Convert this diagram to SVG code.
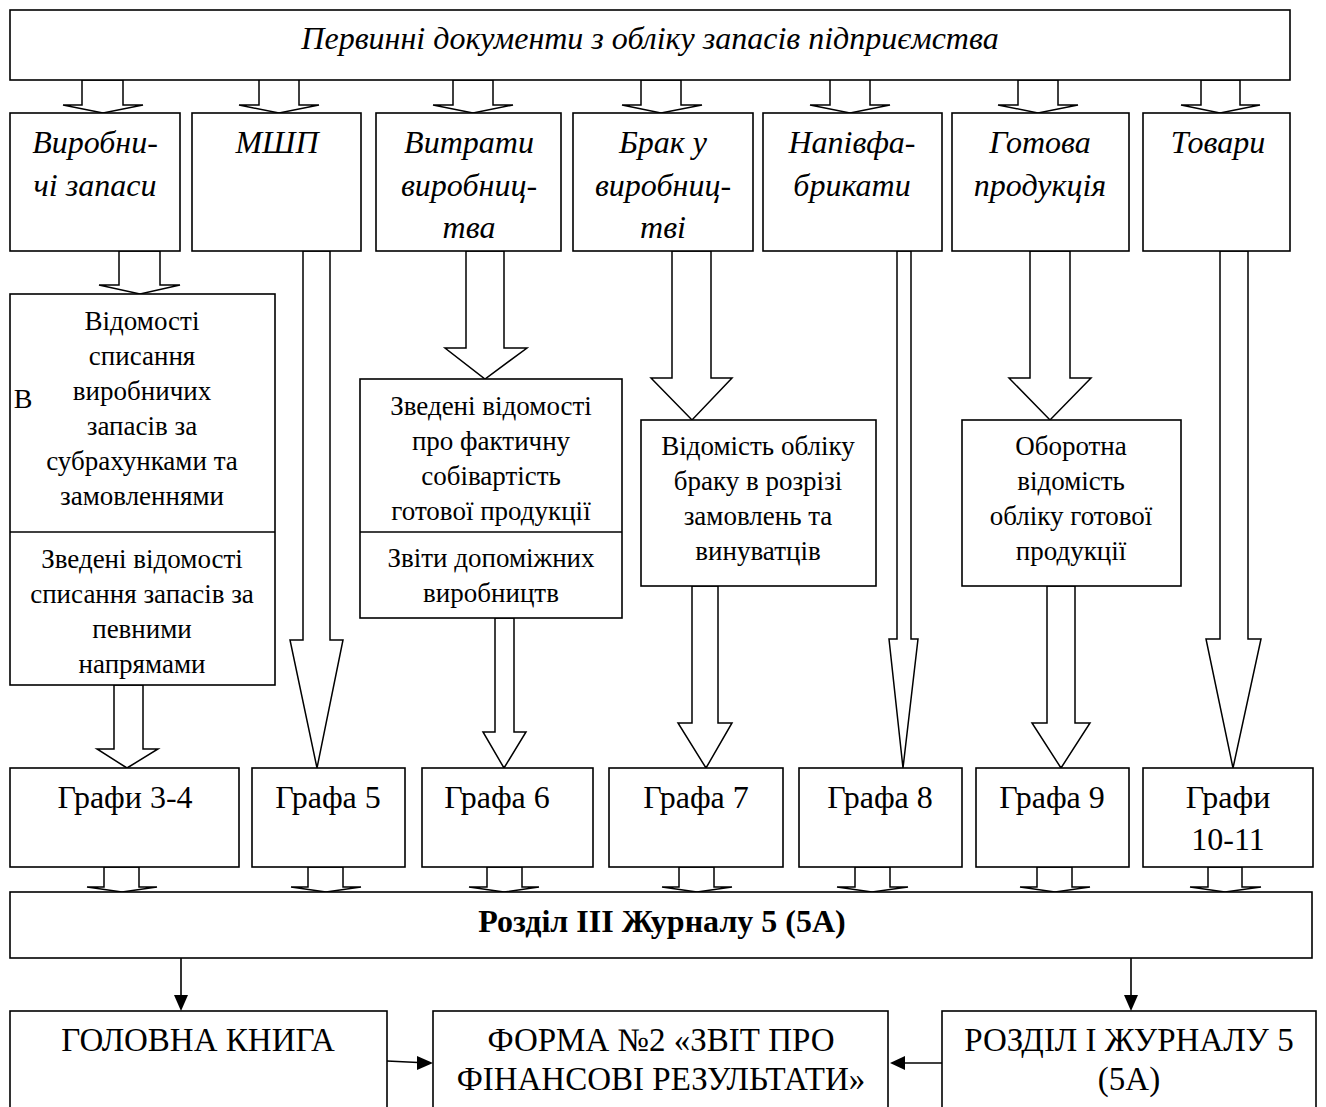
<svg xmlns="http://www.w3.org/2000/svg" width="1326" height="1107" viewBox="0 0 1326 1107">
<defs>
<style>
.box{fill:#fff;stroke:#000;stroke-width:1.6}
.arr{fill:#fff;stroke:#000;stroke-width:1.5;stroke-linejoin:miter}
.ln{fill:none;stroke:#000;stroke-width:1.6}
.head{fill:#000;stroke:none}
text{font-family:'Liberation Serif','DejaVu Serif',serif;fill:#000;text-anchor:middle}
.ti{font-style:italic;font-size:32px}
.tt{font-style:italic;font-size:32px}
.t2{font-size:27px}
.tg{font-size:32px}
.tl{font-size:33px}
.tb{font-size:32px;font-weight:bold}
</style>
</defs>
<rect width="1326" height="1107" fill="#fff"/>

<g id="connectors">
<polygon class="arr" points="82,80 82,105 63,105 103,113 143,105 123,105 123,80"/>
<polygon class="arr" points="259,77 259,105 239,105 279,113 319,105 299,105 299,77"/>
<polygon class="arr" points="453,80 453,105 433,105 473,113 513,105 493,105 493,80"/>
<polygon class="arr" points="641,80 641,105 622,105 661,113 702,105 681,105 681,80"/>
<polygon class="arr" points="830,77 830,105 810,105 850,113 890,105 870,105 870,77"/>
<polygon class="arr" points="1018,80 1018,105 998,105 1038,113 1078,105 1058,105 1058,80"/>
<polygon class="arr" points="1201,80 1201,105 1181,105 1220,113 1260,105 1240,105 1240,80"/>
<polygon class="arr" points="119,251 119,285 99,285 140,294 180,285 160,285 160,251"/>
<polygon class="arr" points="303,251 303,640 290,640 317,768 343,640 330,640 330,251"/>
<polygon class="arr" points="466,251 466,348 445,348 485,379 527,348 504,348 504,251"/>
<polygon class="arr" points="672,251 672,378 651,378 692,420 732,378 711,378 711,251"/>
<polygon class="arr" points="897,251 897,639 889,639 903,768 918,639 911,639 911,251"/>
<polygon class="arr" points="1030,251 1030,378 1009,378 1050,420 1091,378 1070,378 1070,251"/>
<polygon class="arr" points="1220,251 1220,639 1206,639 1233,768 1261,639 1248,639 1248,251"/>
<polygon class="arr" points="114,685 114,749 97,749 127,768 158,749 143,749 143,685"/>
<polygon class="arr" points="495,618 495,732 483,732 504,768 526,732 514,732 514,618"/>
<polygon class="arr" points="692,586 692,723 678,723 706,768 732,723 718,723 718,586"/>
<polygon class="arr" points="1047,586 1047,723 1032,723 1061,768 1090,723 1075,723 1075,586"/>
<polygon class="arr" points="104,867 104,887 87,887 122,892 157,887 139,887 139,867"/>
<polygon class="arr" points="308,867 308,887 291,887 326,892 361,887 343,887 343,867"/>
<polygon class="arr" points="487,867 487,887 469,887 504,892 539,887 522,887 522,867"/>
<polygon class="arr" points="679,867 679,887 662,887 697,892 732,887 714,887 714,867"/>
<polygon class="arr" points="855,867 855,887 837,887 872,892 908,887 890,887 890,867"/>
<polygon class="arr" points="1037,867 1037,887 1020,887 1055,892 1090,887 1072,887 1072,867"/>
<polygon class="arr" points="1208,867 1208,887 1190,887 1225,892 1261,887 1242,887 1242,867"/>
<line class="ln" x1="181" y1="958" x2="181" y2="996"/>
<polygon class="head" points="174,995 188,995 181,1011"/>
<line class="ln" x1="1131" y1="958" x2="1131" y2="996"/>
<polygon class="head" points="1124,995 1138,995 1131,1011"/>
<line class="ln" x1="387" y1="1061" x2="418" y2="1062.5"/>
<polygon class="head" points="417,1056 433,1063 417,1070"/>
<line class="ln" x1="942" y1="1063" x2="904" y2="1063"/>
<polygon class="head" points="905,1056 890,1063 905,1070"/>
</g>

<g id="n-top"><rect class="box" x="10" y="10" width="1280" height="70"/>
<text class="tt" x="650" y="49">Первинні документи з обліку запасів підприємства</text></g>

<g id="n-vyrobnychi"><rect class="box" x="10" y="113" width="170" height="138"/>
<text class="ti" x="95" y="153">Виробни-</text><text class="ti" x="95" y="196">чі запаси</text></g>
<g id="n-mshp"><rect class="box" x="192" y="113" width="169" height="138"/>
<text class="ti" x="277" y="153">МШП</text></g>
<g id="n-vytraty"><rect class="box" x="376" y="113" width="185" height="138"/>
<text class="ti" x="469" y="153">Витрати</text><text class="ti" x="469" y="196">виробниц-</text><text class="ti" x="469" y="238">тва</text></g>
<g id="n-brak"><rect class="box" x="573" y="113" width="180" height="138"/>
<text class="ti" x="663" y="153">Брак у</text><text class="ti" x="663" y="196">виробниц-</text><text class="ti" x="663" y="238">тві</text></g>
<g id="n-napiv"><rect class="box" x="763" y="113" width="179" height="138"/>
<text class="ti" x="852" y="153">Напівфа-</text><text class="ti" x="852" y="196">брикати</text></g>
<g id="n-gotova"><rect class="box" x="952" y="113" width="177" height="138"/>
<text class="ti" x="1040" y="153">Готова</text><text class="ti" x="1040" y="196">продукція</text></g>
<g id="n-tovary"><rect class="box" x="1143" y="113" width="147" height="138"/>
<text class="ti" x="1218" y="153">Товари</text></g>

<g id="n-vidomosti"><rect class="box" x="10" y="294" width="265" height="391"/>
<line class="ln" x1="10" y1="532" x2="275" y2="532"/>
<text class="t2" x="23" y="408" style="font-size:28px">В</text>
<text class="t2" x="142" y="330">Відомості</text>
<text class="t2" x="142" y="365">списання</text>
<text class="t2" x="142" y="400">виробничих</text>
<text class="t2" x="142" y="435">запасів за</text>
<text class="t2" x="142" y="470">субрахунками та</text>
<text class="t2" x="142" y="505">замовленнями</text>
<text class="t2" x="142" y="568">Зведені відомості</text>
<text class="t2" x="142" y="603">списання запасів за</text>
<text class="t2" x="142" y="638">певними</text>
<text class="t2" x="142" y="673">напрямами</text></g>

<g id="n-zvedeni"><rect class="box" x="360" y="379" width="262" height="239"/>
<line class="ln" x1="360" y1="532" x2="622" y2="532"/>
<text class="t2" x="491" y="415">Зведені відомості</text>
<text class="t2" x="491" y="450">про фактичну</text>
<text class="t2" x="491" y="485">собівартість</text>
<text class="t2" x="491" y="520">готової продукції</text>
<text class="t2" x="491" y="567">Звіти допоміжних</text>
<text class="t2" x="491" y="602">виробництв</text></g>

<g id="n-braku"><rect class="box" x="641" y="420" width="235" height="166"/>
<text class="t2" x="758" y="455">Відомість обліку</text>
<text class="t2" x="758" y="490">браку в розрізі</text>
<text class="t2" x="758" y="525">замовлень та</text>
<text class="t2" x="758" y="560">винуватців</text></g>

<g id="n-oborotna"><rect class="box" x="962" y="420" width="219" height="166"/>
<text class="t2" x="1071" y="455">Оборотна</text>
<text class="t2" x="1071" y="490">відомість</text>
<text class="t2" x="1071" y="525">обліку готової</text>
<text class="t2" x="1071" y="560">продукції</text></g>

<g id="n-g34"><rect class="box" x="10" y="768" width="229" height="99"/><text class="tg" x="125" y="808">Графи 3-4</text></g>
<g id="n-g5"><rect class="box" x="252" y="768" width="153" height="99"/><text class="tg" x="328" y="808">Графа 5</text></g>
<g id="n-g6"><rect class="box" x="422" y="768" width="171" height="99"/><text class="tg" x="497" y="808">Графа 6</text></g>
<g id="n-g7"><rect class="box" x="609" y="768" width="174" height="99"/><text class="tg" x="696" y="808">Графа 7</text></g>
<g id="n-g8"><rect class="box" x="799" y="768" width="163" height="99"/><text class="tg" x="880" y="808">Графа 8</text></g>
<g id="n-g9"><rect class="box" x="976" y="768" width="153" height="99"/><text class="tg" x="1052" y="808">Графа 9</text></g>
<g id="n-g1011"><rect class="box" x="1143" y="768" width="170" height="99"/><text class="tg" x="1228" y="808">Графи</text><text class="tg" x="1228" y="850">10-11</text></g>

<g id="n-rozdil3"><rect class="box" x="10" y="892" width="1302" height="66"/>
<text class="tb" x="662" y="932">Розділ ІІІ Журналу 5 (5А)</text></g>

<g id="n-golovna"><rect class="box" x="10" y="1011" width="377" height="110"/>
<text class="tl" x="198" y="1051">ГОЛОВНА КНИГА</text></g>
<g id="n-forma"><rect class="box" x="433" y="1011" width="455" height="110"/>
<text class="tl" x="661" y="1051">ФОРМА №2 «ЗВІТ ПРО</text>
<text class="tl" x="661" y="1090">ФІНАНСОВІ РЕЗУЛЬТАТИ»</text></g>
<g id="n-rozdil1"><rect class="box" x="942" y="1011" width="374" height="110"/>
<text class="tl" x="1129" y="1051">РОЗДІЛ І ЖУРНАЛУ 5</text>
<text class="tl" x="1129" y="1090">(5А)</text></g>
</svg>
